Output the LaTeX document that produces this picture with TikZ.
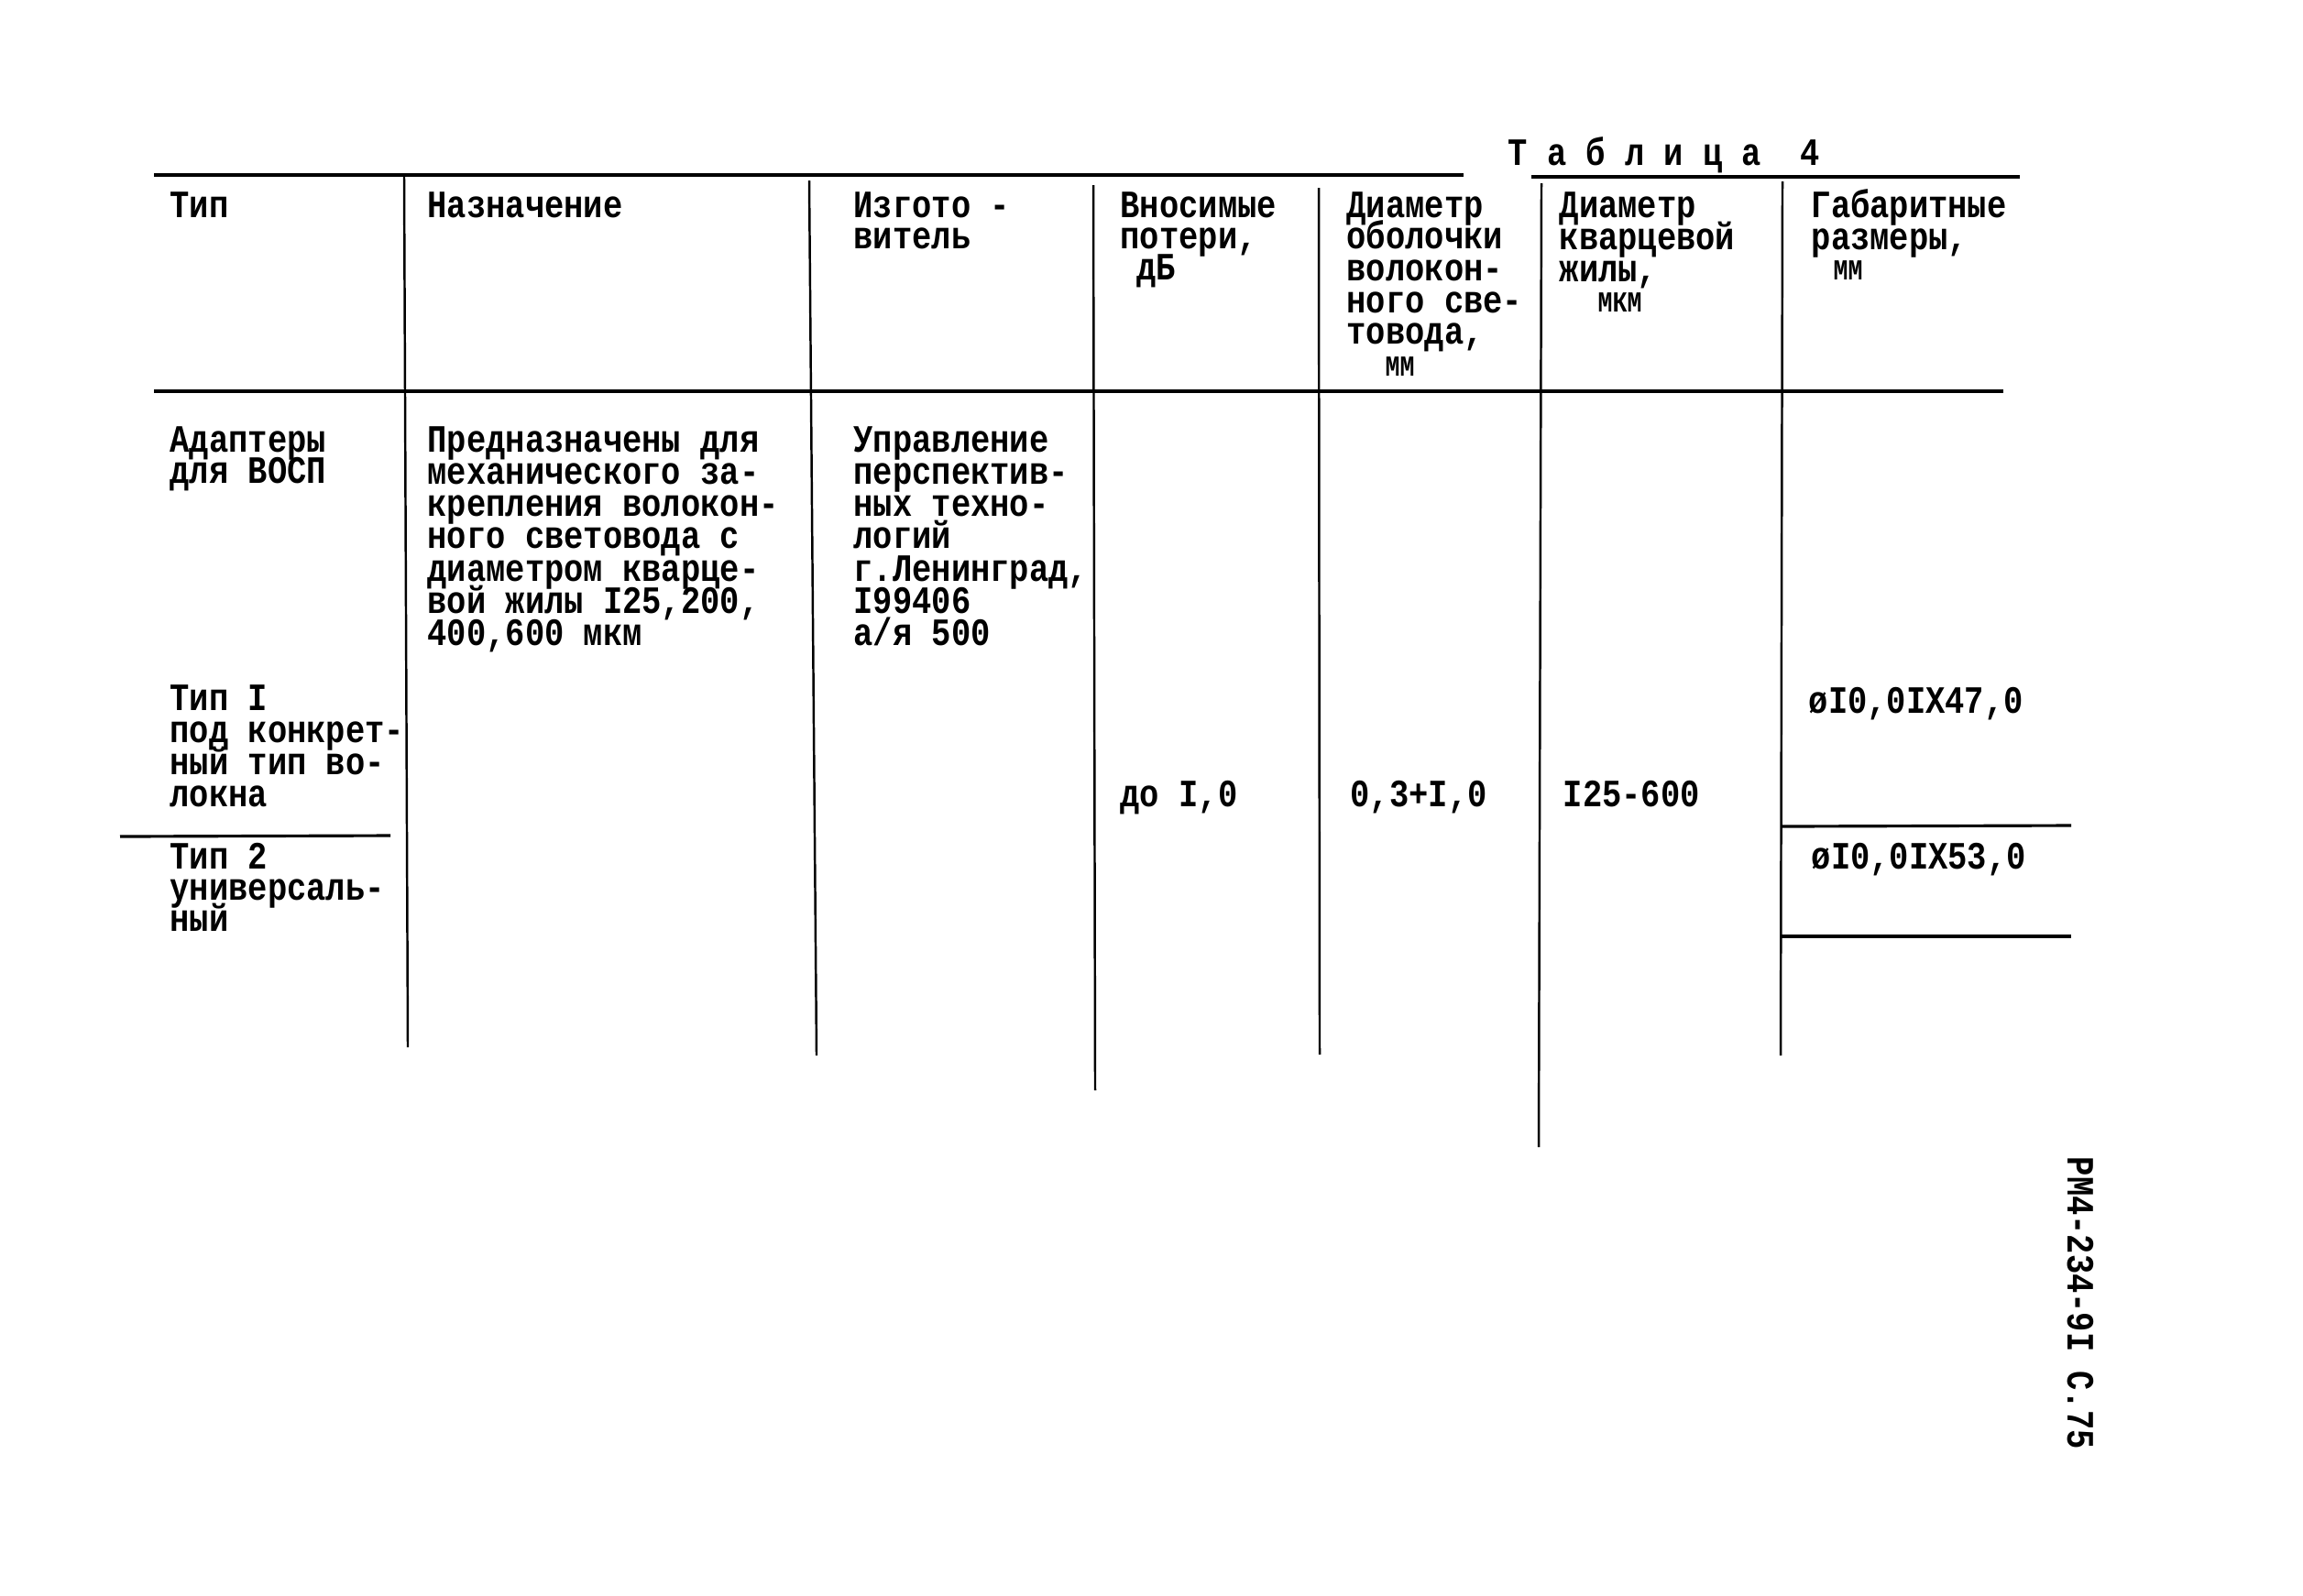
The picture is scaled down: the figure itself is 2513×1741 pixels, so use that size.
\documentclass[tikz,border=0pt]{standalone}
\usepackage{fontspec}
\setmainfont{Liberation Mono}[FakeStretch=0.84]
\tikzset{
  txt/.style={anchor=base west, inner sep=0pt, font=\fontsize{12}{12}\selectfont\bfseries},
  unit/.style={anchor=base west, inner sep=0pt, font=\fontsize{9}{9}\selectfont\bfseries},
  rule/.style={line width=1.2pt},
  vline/.style={line width=0.7pt},
  hline/.style={line width=0.9pt}
}
\newcommand\tblock[5]{\foreach \t [count=\i] in {#5} {\node[txt] (#1-\i) at (#2,{#3+(\i-1)*#4}) {\t};}}
\begin{document}
\begin{tikzpicture}[x=0.01cm,y=-0.01cm]
\path[use as bounding box] (0,0) rectangle (2513,1741);
% title
\node[txt] (title) at (1645,180) {Т~а~б~л~и~ц~а~~4};
% rules
\coordinate (t1a) at (168,191); \coordinate (t1b) at (1597,191);
\coordinate (t2a) at (1671,193); \coordinate (t2b) at (2204,193);
\coordinate (hb1) at (168,427); \coordinate (hb2) at (2186,427);
\draw[rule] (t1a) -- (t1b);
\draw[rule] (t2a) -- (t2b);
\draw[rule] (hb1) -- (hb2);
% verticals
\coordinate (v1a) at (441,193); \coordinate (v1b) at (445,1143);
\coordinate (v2a) at (883,197); \coordinate (v2b) at (891,1152);
\coordinate (v3a) at (1193,202); \coordinate (v3b) at (1195,1190);
\coordinate (v4a) at (1439,205); \coordinate (v4b) at (1440,1151);
\coordinate (v5a) at (1682,200); \coordinate (v5b) at (1679,1252);
\coordinate (v6a) at (1945,198); \coordinate (v6b) at (1943,1152);
\draw[vline] (v1a) -- (v1b);
\draw[vline] (v2a) -- (v2b);
\draw[vline] (v3a) -- (v3b);
\draw[vline] (v4a) -- (v4b);
\draw[vline] (v5a) -- (v5b);
\draw[vline] (v6a) -- (v6b);
% inner horizontals
\coordinate (l1a) at (131,913); \coordinate (l1b) at (426,912);
\coordinate (r1a) at (1944,902); \coordinate (r1b) at (2260,901);
\coordinate (r2a) at (1944,1022); \coordinate (r2b) at (2260,1022);
\draw[hline] (l1a) -- (l1b);
\draw[hline] (r1a) -- (r1b);
\draw[hline] (r2a) -- (r2b);
% header
\tblock{tip}{185}{237}{34}{Тип}
\tblock{naz}{466}{237}{34}{Назначение}
\tblock{izg}{931}{237}{34}{Изгото -, витель}
\tblock{vn}{1222}{237}{34.5}{Вносимые, {потери,}}
\node[txt] (db) at (1240,305) {дБ};
\tblock{dob}{1469}{237}{34.7}{Диаметр, оболочки, волокон-, ного све-, {товода,}}
\node[unit] (mm1) at (1511,410) {ММ};
\tblock{dkv}{1701}{237}{35}{Диаметр, кварцевой, {жилы,}}
\node[unit] (mkm) at (1743,340) {МКМ};
\tblock{gab}{1976}{237}{35}{Габаритные, {размеры,}}
\node[unit] (mm2) at (2000,305) {ММ};
% body
\tblock{ad}{185}{493}{34}{Адаптеры, для ВОСП}
\tblock{ta}{185}{775}{35}{Тип I, под конкрет-, ный тип во-, локна}
\tblock{tb}{185}{948}{34}{Тип 2, универсаль-, ный}
\tblock{pr}{466}{493}{35.3}{Предназначены для, механического за-, крепления волокон-, ного световода с, диаметром кварце-, {вой жилы I25,200,}, {400,600 мкм}}
\tblock{up}{931}{493}{35.3}{Управление, перспектив-, ных техно-, логий, {г.Ленинград,}, I99406, а/я 500}
\node[txt] (do) at (1222,880) {до I,0};
\node[txt] (ob) at (1473,880) {0,3+I,0};
\node[txt] (kv) at (1705,880) {I25-600};
\node[txt] (ga) at (1973,778) {øI0,0IX47,0};
\node[txt] (gb) at (1976,948) {øI0,0IX53,0};
% page mark
\node[txt, rotate=-90] (pm) at (2256,1262) {РМ4-234-9I С.75};
\end{tikzpicture}
\end{document}
